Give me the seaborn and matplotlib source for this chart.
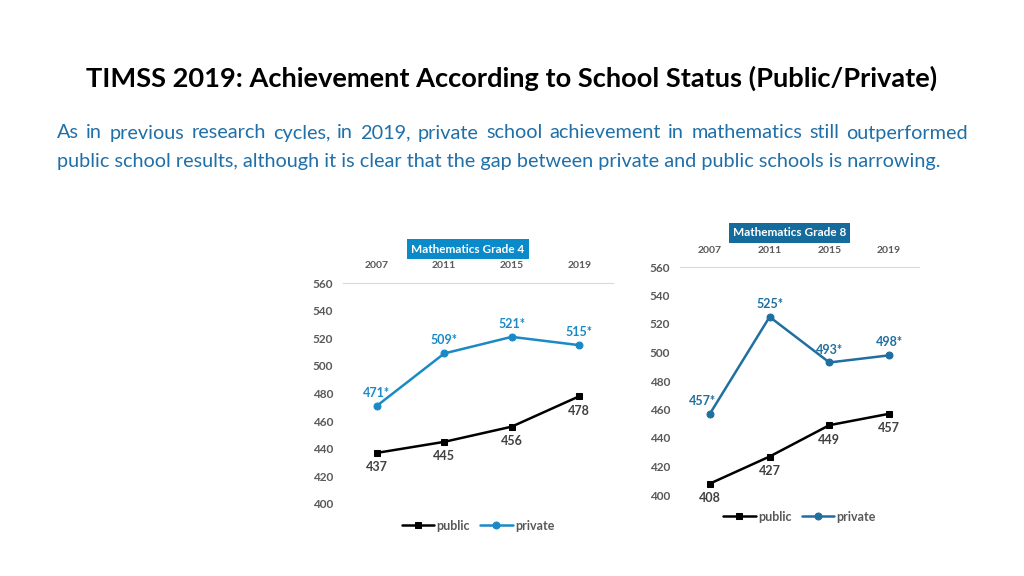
import matplotlib
matplotlib.use("Agg")
import matplotlib.pyplot as plt
import seaborn as sns
import pandas as pd

years = ["2007", "2011", "2015", "2019"]
g4_public = [437, 445, 456, 478]
g4_private = [471, 509, 521, 515]
g8_public = [408, 427, 449, 457]
g8_private = [457, 525, 493, 498]
y_ticks = [400, 420, 440, 460, 480, 500, 520, 540, 560]

title = "TIMSS 2019: Achievement According to School Status (Public/Private)"
line1 = ("As in previous research cycles, in 2019, private school achievement in "
         "mathematics still outperformed")
line2 = ("public school results, although it is clear that the gap between private "
         "and public schools is narrowing.")

sns.set_theme(style="white")
plt.rcParams["font.family"] = ["Lato", "DejaVu Sans"]

GRAY = "#595959"
SUB = "#1f6fa8"


def panel(ax, public, private, name, blue, box_color, box_y, first_shift=0):
    df = pd.DataFrame({"year": years * 2,
                       "score": public + private,
                       "school": ["public"] * 4 + ["private"] * 4})
    sns.lineplot(data=df[df.school == "public"], x="year", y="score", ax=ax,
                 color="black", marker="s", markersize=5, linewidth=1.8,
                 markeredgecolor="black", label="public", sort=False)
    sns.lineplot(data=df[df.school == "private"], x="year", y="score", ax=ax,
                 color=blue, marker="o", markersize=5, linewidth=1.8,
                 markeredgecolor=blue, label="private", sort=False)
    for i, v in enumerate(public):
        ax.annotate(str(v), (i, v), xytext=(0, -6), textcoords="offset points",
                    ha="center", va="top", fontsize=9, fontweight="bold",
                    color="#404040")
    for i, v in enumerate(private):
        dx = first_shift if i == 0 else 0
        ax.annotate(f"{v}*", (i, v), xytext=(dx, 5), textcoords="offset points",
                    ha="center", va="bottom", fontsize=9, fontweight="bold",
                    color=blue)
    ax.set_xlim(-0.5, 3.5)
    ax.set_ylim(400, 560)
    ax.set_yticks(y_ticks)
    ax.set_xlabel("")
    ax.set_ylabel("")
    ax.xaxis.tick_top()
    ax.tick_params(axis="x", length=0, pad=9, labelsize=7.5, labelcolor=GRAY)
    ax.tick_params(axis="y", length=0, pad=7, labelsize=8.5, labelcolor=GRAY)
    for lab in ax.get_xticklabels() + ax.get_yticklabels():
        lab.set_fontweight("bold")
    for s in ["left", "right", "bottom"]:
        ax.spines[s].set_visible(False)
    ax.spines["top"].set_color("#d9d9d9")
    ax.spines["top"].set_linewidth(0.8)
    ax.grid(False)
    leg = ax.legend(loc="upper center", bbox_to_anchor=(0.5, -0.02), ncol=2,
                    frameon=False, fontsize=9, handlelength=2.6,
                    columnspacing=0.8, handletextpad=0.2)
    for t in leg.get_texts():
        t.set_color(GRAY)
        t.set_fontweight("bold")
    pos = ax.get_position()
    fig.text((pos.x0 + pos.x1) / 2 - 10 / 1024, 1 - box_y / 576, name,
             ha="center", va="center", fontsize=8.5, fontweight="bold",
             color="white",
             bbox=dict(boxstyle="square,pad=0.35", fc=box_color, ec="none"))


fig = plt.figure(figsize=(10.24, 5.76), dpi=100)
fig.patch.set_facecolor("white")

ax4 = fig.add_axes([343 / 1024, 1 - 504 / 576, 270 / 1024, 221 / 576])
ax8 = fig.add_axes([680 / 1024, 1 - 495 / 576, 239 / 1024, 228 / 576])

panel(ax4, g4_public, g4_private, "Mathematics Grade 4", "#1a8ac6", "#0b8ac9", 249)
panel(ax8, g8_public, g8_private, "Mathematics Grade 8", "#1f6fa0", "#156b9b", 233,
      first_shift=-5)

renderer = fig.canvas.get_renderer()


def fit(t, width_px):
    w = t.get_window_extent(renderer).width
    t.set_fontsize(t.get_fontsize() * width_px / w)


tt = fig.text(512 / 1024, 1 - 78 / 576, title, ha="center", va="center",
              fontsize=20, fontweight="bold", color="black")
fit(tt, 855)

# second line sets the size, first line is justified to the full width
t2 = fig.text(57 / 1024, 1 - 161 / 576, line2, ha="left", va="center",
              fontsize=13, color=SUB)
fit(t2, 883)
size = t2.get_fontsize()

words = line1.split(" ")
wtexts = [fig.text(0, 1 - 133 / 576, w, ha="left", va="center",
                   fontsize=size, color=SUB) for w in words]
widths = [w.get_window_extent(renderer).width for w in wtexts]
left, right = 57, 968
gap = (right - left - sum(widths)) / (len(words) - 1)
x = left
for w, wd in zip(wtexts, widths):
    w.set_x(x / 1024)
    x += wd + gap

fig.savefig("out.png", dpi=100, facecolor="white")
